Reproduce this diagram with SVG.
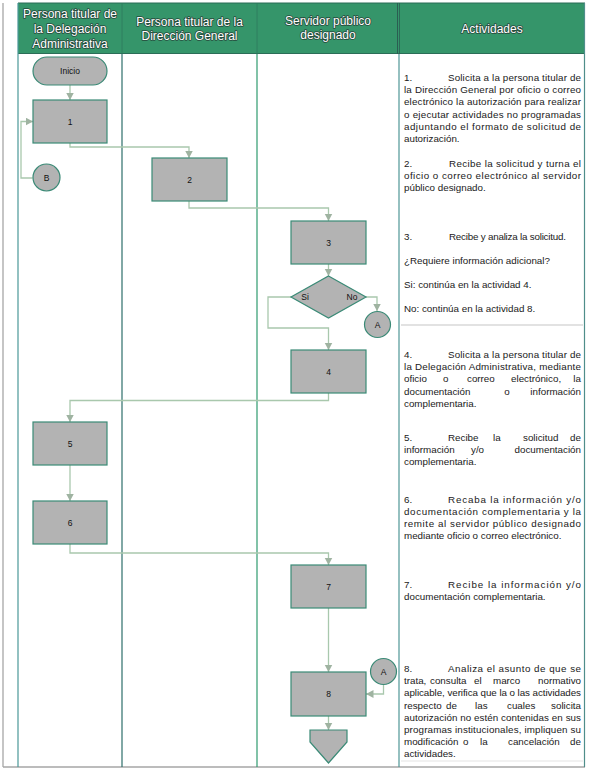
<svg xmlns="http://www.w3.org/2000/svg" width="590" height="772" viewBox="0 0 590 772">
<style>
.hdr{font-family:"Liberation Sans",Arial,sans-serif;font-size:12px;fill:#ffffff;stroke:#27493c;stroke-width:1.6px;paint-order:stroke;stroke-linejoin:round;text-anchor:middle}
.act{font-family:"Liberation Sans",Arial,sans-serif;font-size:9.8px;fill:#1a1a1a}
.end{text-anchor:end}
.mid{text-anchor:middle}
.box{fill:#b3b3b3;stroke:#3a8a76;stroke-width:1.2}
.lbl{font-family:"Liberation Sans",Arial,sans-serif;font-size:8.5px;fill:#111111;text-anchor:middle}
.con{fill:none;stroke:#a9c8ad;stroke-width:1.3}
.lane{stroke-width:1.2;fill:none}
</style>
<defs>
<marker id="arr" markerUnits="userSpaceOnUse" markerWidth="9" markerHeight="9" refX="7.5" refY="4" orient="auto">
<path d="M0,0 L7.5,4 L0,8 z" fill="#9fb3a1"/>
</marker>
</defs>

<g id="frame">
<rect x="0" y="0" width="590" height="772" fill="#ffffff"/>
<rect x="18" y="3" width="567" height="51" fill="#35956a"/>
<line x1="18" y1="3" x2="585" y2="3" stroke="#2b6d57" stroke-width="1"/>
<line x1="18" y1="53.5" x2="585" y2="53.5" stroke="#2b6d57" stroke-width="1.2"/>
<line x1="122" y1="3" x2="122" y2="54" stroke="#2f7a5e" stroke-width="0.8"/>
<line x1="257" y1="3" x2="257" y2="54" stroke="#2f7a5e" stroke-width="0.8"/>
<line x1="397.5" y1="3" x2="397.5" y2="54" stroke="#2b5e52" stroke-width="1"/>
<line x1="399.5" y1="3" x2="399.5" y2="54" stroke="#2b5e52" stroke-width="0.8"/>
<line x1="3" y1="3" x2="3" y2="767" stroke="#a6a6a6" stroke-width="1.3"/>
<line x1="3" y1="767" x2="585" y2="767" stroke="#a6a6a6" stroke-width="1.3"/>
<line class="lane" x1="18" y1="3" x2="18" y2="767" stroke="#4a9898"/>
<line class="lane" x1="122" y1="54" x2="122" y2="767" stroke="#2d6e6a"/>
<line class="lane" x1="257" y1="54" x2="257" y2="767" stroke="#2e9a6e"/>
<line class="lane" x1="399" y1="54" x2="399" y2="767" stroke="#4f9696"/>
<line class="lane" x1="584.5" y1="3" x2="584.5" y2="767" stroke="#4f8e8a"/>
<line x1="401" y1="325" x2="583" y2="325" stroke="#e2e2e2" stroke-width="2"/>
<line x1="401" y1="761" x2="583" y2="761" stroke="#ececec" stroke-width="1.5"/>
</g>

<g id="headers">
<text class="hdr" x="70" y="18">Persona titular de</text>
<text class="hdr" x="70" y="33">la Delegación</text>
<text class="hdr" x="70" y="47.5">Administrativa</text>
<text class="hdr" x="189.5" y="25.5">Persona titular de la</text>
<text class="hdr" x="189.5" y="39.5">Dirección General</text>
<text class="hdr" x="328" y="25">Servidor público</text>
<text class="hdr" x="328" y="39">designado</text>
<text class="hdr" x="492" y="32.5">Actividades</text>
</g>

<g id="connectors">
<path class="con" d="M70,85 V100" marker-end="url(#arr)"/>
<path class="con" d="M32.5,178 H21 V121.5 H33" marker-end="url(#arr)"/>
<path class="con" d="M70,143 V147 H189 V158" marker-end="url(#arr)"/>
<path class="con" d="M189,201 V208 H328.5 V221" marker-end="url(#arr)"/>
<path class="con" d="M328.5,264 V276" marker-end="url(#arr)"/>
<path class="con" d="M291,297 H268 V328 H328.5 V350" marker-end="url(#arr)"/>
<path class="con" d="M366,297 H377 V311" marker-end="url(#arr)"/>
<path class="con" d="M328.5,393 V400.5 H70 V422" marker-end="url(#arr)"/>
<path class="con" d="M70,465 V501" marker-end="url(#arr)"/>
<path class="con" d="M70,544 V553 H328.5 V565" marker-end="url(#arr)"/>
<path class="con" d="M328.5,608 V672" marker-end="url(#arr)"/>
<path class="con" d="M383.5,684.5 V694 H366" marker-end="url(#arr)"/>
<path class="con" d="M328.5,716 V730" marker-end="url(#arr)"/>
</g>

<g id="inicio">
<rect class="box" x="33" y="57" width="74" height="28" rx="14" ry="14"/>
<text class="lbl" x="70" y="74">Inicio</text>
</g>
<g id="n1">
<rect class="box" x="33" y="100" width="74" height="43"/>
<text class="lbl" x="70" y="124.5">1</text>
</g>
<g id="connB">
<circle class="box" cx="46.5" cy="177.5" r="13.5"/>
<text class="lbl" x="46.5" y="180.5">B</text>
</g>
<g id="n2">
<rect class="box" x="152" y="158" width="75" height="43"/>
<text class="lbl" x="189.5" y="183">2</text>
</g>
<g id="n3">
<rect class="box" x="291" y="221" width="75" height="43"/>
<text class="lbl" x="328.5" y="246">3</text>
</g>
<g id="decision">
<polygon class="box" points="328.5,276 366,297 328.5,318 291,297"/>
<text class="lbl" x="305" y="300">Si</text>
<text class="lbl" x="352" y="300">No</text>
</g>
<g id="connA1">
<circle class="box" cx="377.5" cy="324.5" r="13"/>
<text class="lbl" x="377.5" y="327.5">A</text>
</g>
<g id="n4">
<rect class="box" x="291" y="350" width="75" height="43"/>
<text class="lbl" x="328.5" y="375">4</text>
</g>
<g id="n5">
<rect class="box" x="33" y="422" width="74" height="43"/>
<text class="lbl" x="70" y="446.5">5</text>
</g>
<g id="n6">
<rect class="box" x="33" y="501" width="74" height="43"/>
<text class="lbl" x="70" y="525.5">6</text>
</g>
<g id="n7">
<rect class="box" x="291" y="565" width="75" height="43"/>
<text class="lbl" x="328.5" y="589.5">7</text>
</g>
<g id="connA2">
<circle class="box" cx="383.5" cy="671.5" r="13"/>
<text class="lbl" x="383.5" y="674.5">A</text>
</g>
<g id="n8">
<rect class="box" x="291" y="672" width="75" height="44"/>
<text class="lbl" x="328.5" y="697">8</text>
</g>
<g id="offpage">
<polygon class="box" points="310,730 347,730 347,742 328.5,763 310,742"/>
</g>

<g id="activities">
<text class="act" x="404" y="81">1.</text>
<text class="act" x="448" y="81" textLength="133" lengthAdjust="spacing">Solicita a la persona titular de</text>
<text class="act" x="404" y="93.2" textLength="177" lengthAdjust="spacing">la Dirección General por oficio o correo</text>
<text class="act" x="404" y="105.4" textLength="177" lengthAdjust="spacing">electrónico la autorización para realizar</text>
<text class="act" x="404" y="117.6" textLength="177" lengthAdjust="spacing">o ejecutar actividades no programadas</text>
<text class="act" x="404" y="129.8" textLength="177" lengthAdjust="spacing">adjuntando el formato de solicitud de</text>
<text class="act" x="404" y="142">autorización.</text>

<text class="act" x="404" y="166.5">2.</text>
<text class="act" x="449" y="166.5" textLength="132" lengthAdjust="spacing">Recibe la solicitud y turna el</text>
<text class="act" x="404" y="178.7" textLength="177" lengthAdjust="spacing">oficio o correo electrónico al servidor</text>
<text class="act" x="404" y="190.9">público designado.</text>

<text class="act" x="404" y="239.5">3.</text>
<text class="act" x="449" y="239.5" textLength="117" lengthAdjust="spacing">Recibe y analiza la solicitud.</text>
<text class="act" x="404" y="263.5">¿Requiere información adicional?</text>
<text class="act" x="404" y="287.5">Si: continúa en la actividad 4.</text>
<text class="act" x="404" y="312">No: continúa en la actividad 8.</text>

<text class="act" x="404" y="358">4.</text>
<text class="act" x="448" y="358" textLength="133" lengthAdjust="spacing">Solicita a la persona titular de</text>
<text class="act" x="404" y="370.2" textLength="177" lengthAdjust="spacing">la Delegación Administrativa, mediante</text>
<text class="act" x="404" y="382.4">oficio</text>
<text class="act" x="443" y="382.4">o</text>
<text class="act" x="467" y="382.4">correo</text>
<text class="act" x="511" y="382.4">electrónico,</text>
<text class="act end" x="581" y="382.4">la</text>
<text class="act" x="404" y="394.6">documentación</text>
<text class="act mid" x="507" y="394.6">o</text>
<text class="act end" x="581" y="394.6">información</text>
<text class="act" x="404" y="406.8">complementaria.</text>

<text class="act" x="404" y="441">5.</text>
<text class="act" x="448" y="441">Recibe</text>
<text class="act" x="493" y="441">la</text>
<text class="act" x="523" y="441">solicitud</text>
<text class="act end" x="581" y="441">de</text>
<text class="act" x="404" y="453.2">información</text>
<text class="act" x="471" y="453.2">y/o</text>
<text class="act end" x="581" y="453.2">documentación</text>
<text class="act" x="404" y="465.4">complementaria.</text>

<text class="act" x="404" y="502.8">6.</text>
<text class="act" x="448" y="502.8" textLength="133" lengthAdjust="spacing">Recaba la información y/o</text>
<text class="act" x="404" y="515" textLength="177" lengthAdjust="spacing">documentación complementaria y la</text>
<text class="act" x="404" y="527.2" textLength="177" lengthAdjust="spacing">remite al servidor público designado</text>
<text class="act" x="404" y="539.4">mediante oficio o correo electrónico.</text>

<text class="act" x="404" y="588">7.</text>
<text class="act" x="448" y="588" textLength="133" lengthAdjust="spacing">Recibe la información y/o</text>
<text class="act" x="404" y="600.2">documentación complementaria.</text>

<text class="act" x="404" y="672">8.</text>
<text class="act" x="448" y="672" textLength="133" lengthAdjust="spacing">Analiza el asunto de que se</text>
<text class="act" x="404" y="684.2">trata,</text>
<text class="act" x="430" y="684.2">consulta</text>
<text class="act" x="474" y="684.2">el</text>
<text class="act" x="493" y="684.2">marco</text>
<text class="act end" x="581" y="684.2">normativo</text>
<text class="act" x="404" y="696.4" textLength="177" lengthAdjust="spacing">aplicable, verifica que la o las actividades</text>
<text class="act" x="404" y="708.6">respecto</text>
<text class="act" x="446" y="708.6">de</text>
<text class="act" x="475" y="708.6">las</text>
<text class="act" x="507" y="708.6">cuales</text>
<text class="act end" x="581" y="708.6">solicita</text>
<text class="act" x="404" y="720.8" textLength="177" lengthAdjust="spacing">autorización no estén contenidas en sus</text>
<text class="act" x="404" y="733" textLength="177" lengthAdjust="spacing">programas institucionales, impliquen su</text>
<text class="act" x="404" y="745.2">modificación</text>
<text class="act" x="463" y="745.2">o</text>
<text class="act" x="480" y="745.2">la</text>
<text class="act" x="508" y="745.2">cancelación</text>
<text class="act end" x="581" y="745.2">de</text>
<text class="act" x="404" y="757.4">actividades.</text>
</g>
</svg>
